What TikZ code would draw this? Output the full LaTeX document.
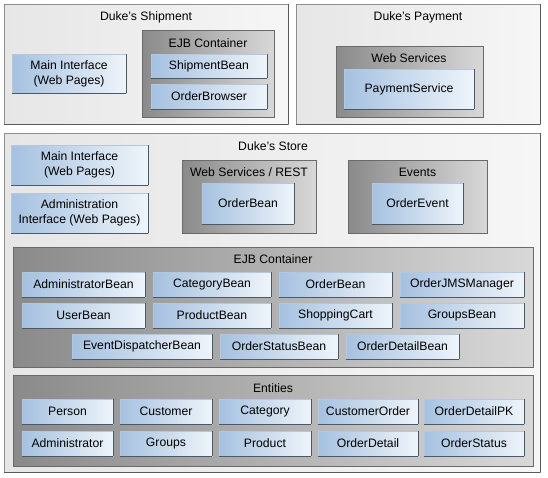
\documentclass[tikz,border=0pt]{standalone}
\usepackage{fontspec}
\setmainfont{Liberation Sans}
\definecolor{outerL}{HTML}{E6E6E6}
\definecolor{outerR}{HTML}{F6F6F6}
\definecolor{outerB}{HTML}{8E8E8E}
\definecolor{contL}{HTML}{8A8A8A}
\definecolor{contR}{HTML}{D8D8D8}
\definecolor{contB}{HTML}{6A6A6A}
\definecolor{blueL}{HTML}{A5C1E0}
\definecolor{blueR}{HTML}{EEF4FA}
\definecolor{blueB}{HTML}{B4C8DC}
\definecolor{bevel}{HTML}{4C5863}
\definecolor{shade}{HTML}{5A5A5A}
\tikzset{
  txt/.style={font=\fontsize{12.2}{15}\selectfont, text=black, align=center, inner sep=0pt},
  outerbox/.style={draw=outerB, line width=0.8pt, left color=outerL, right color=outerR, inner sep=0pt,
    append after command={(\tikzlastnode.south west) edge[draw=shade, line width=0.8pt] (\tikzlastnode.south east)
                          (\tikzlastnode.south east) edge[draw=shade, line width=0.8pt] (\tikzlastnode.north east)}},
  contbox/.style={draw=contB, line width=0.8pt, left color=contL, right color=contR, inner sep=0pt},
  bluebox/.style={txt, draw=blueB, line width=0.8pt, left color=blueL, right color=blueR,
    append after command={(\tikzlastnode.south west) edge[draw=bevel, line width=0.9pt] (\tikzlastnode.south east)
                          (\tikzlastnode.south east) edge[draw=bevel, line width=0.9pt] (\tikzlastnode.north east)}},
}
\newcommand\bx[7]{\node[#1, minimum width={(#5-#3)*1pt}, minimum height={(#6-#4)*1pt}] (#2) at ({(#3+#5)/2},{(#4+#6)/2}) {#7};}
\begin{document}
\begin{tikzpicture}[x=1pt,y=-1pt]
\useasboundingbox[fill=white] (0,0) rectangle (548,477);
% ---------- Duke's Shipment
\bx{outerbox}{ship}{4}{4}{288}{124}{}
\node[txt] (shipT) at (146,17) {Duke's Shipment};
\bx{bluebox}{shipMain}{12}{54}{126}{93}{Main Interface\\(Web Pages)}
\bx{contbox}{shipEJB}{142}{30}{274}{117}{}
\node[txt] (shipEJBT) at (208,43) {EJB Container};
\bx{bluebox}{shipBean}{151}{54}{267}{78}{ShipmentBean}
\bx{bluebox}{orderBrowser}{151}{84}{267}{109}{OrderBrowser}
% ---------- Duke's Payment
\bx{outerbox}{pay}{296}{4}{540}{124}{}
\node[txt] (payT) at (418,17) {Duke's Payment};
\bx{contbox}{payWS}{336}{46}{483}{117}{}
\node[txt] (payWST) at (409,58) {Web Services};
\bx{bluebox}{payService}{344}{69}{474}{109}{PaymentService}
% ---------- Duke's Store
\bx{outerbox}{store}{4}{133}{540}{472}{}
\node[txt] (storeT) at (273,146) {Duke's Store};
\bx{bluebox}{storeMain}{11}{145}{148}{185}{Main Interface\\(Web Pages)}
\bx{bluebox}{storeAdmin}{11}{193}{148}{233}{Administration\\Interface (Web Pages)}
\bx{contbox}{rest}{182}{160}{316}{233}{}
\node[txt] (restT) at (249,172) {Web Services / REST};
\bx{bluebox}{restOrderBean}{202}{183}{294}{224}{OrderBean}
\bx{contbox}{events}{348}{160}{487}{233}{}
\node[txt] (eventsT) at (417.5,172) {Events};
\bx{bluebox}{orderEvent}{372}{183}{463}{224}{OrderEvent}
% EJB container
\bx{contbox}{ejb}{13}{247}{533}{367}{}
\node[txt] (ejbT) at (273,259) {EJB Container};
\bx{bluebox}{b11}{22}{272}{145}{297}{AdministratorBean}
\bx{bluebox}{b12}{153}{272}{271}{297}{CategoryBean}
\bx{bluebox}{b13}{279}{272}{392}{297}{OrderBean}
\bx{bluebox}{b14}{400}{272}{524}{297}{OrderJMSManager}
\bx{bluebox}{b21}{22}{303}{145}{328}{UserBean}
\bx{bluebox}{b22}{153}{303}{271}{328}{ProductBean}
\bx{bluebox}{b23}{279}{303}{392}{328}{ShoppingCart}
\bx{bluebox}{b24}{400}{303}{524}{328}{GroupsBean}
\bx{bluebox}{b31}{72}{334}{212}{359}{EventDispatcherBean}
\bx{bluebox}{b32}{220}{334}{338}{359}{OrderStatusBean}
\bx{bluebox}{b33}{346}{334}{459}{359}{OrderDetailBean}
% Entities
\bx{contbox}{ent}{13}{375}{533}{466}{}
\node[txt] (entT) at (273,388) {Entities};
\bx{bluebox}{e11}{22}{399}{113}{424}{Person}
\bx{bluebox}{e12}{120}{399}{212}{424}{Customer}
\bx{bluebox}{e13}{219}{399}{311}{424}{Category}
\bx{bluebox}{e14}{318}{399}{418}{424}{CustomerOrder}
\bx{bluebox}{e15}{424}{399}{524}{424}{OrderDetailPK}
\bx{bluebox}{e21}{22}{431}{113}{456}{Administrator}
\bx{bluebox}{e22}{120}{431}{212}{456}{Groups}
\bx{bluebox}{e23}{219}{431}{311}{456}{Product}
\bx{bluebox}{e24}{318}{431}{418}{456}{OrderDetail}
\bx{bluebox}{e25}{424}{431}{524}{456}{OrderStatus}
\end{tikzpicture}
\end{document}
